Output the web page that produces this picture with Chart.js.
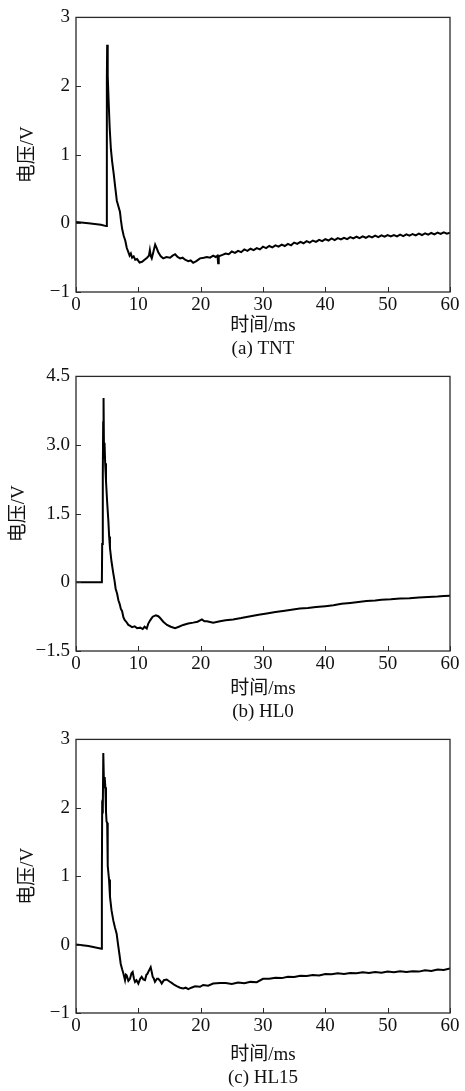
<!DOCTYPE html>
<html>
<head>
<meta charset="utf-8">
<title>电压-时间曲线</title>
<script src="https://cdn.jsdelivr.net/npm/chart.js@4/dist/chart.umd.min.js"></script>
<style>
    html, body { margin: 0; padding: 0; background: #fff; }
    #Wrap { position: relative; width: 465px; height: 1091px; }
    #Wrap canvas { position: absolute; left: 0; }
</style>
</head>
<body>
<div id="Wrap">
    <canvas id="ChartTnt" width="465" height="369"></canvas>
    <canvas id="ChartHl0" width="465" height="369"></canvas>
    <canvas id="ChartHl15" width="465" height="369"></canvas>
</div>
<script>
// time (ms), voltage (V)
var tntCurve = [
    [0, 0.02], [2, 0.0], [4, -0.02], [4.85, -0.04], [4.95, 2.1], [5.0, 2.6], [5.06, 2.05], [5.12, 2.15],
    [5.25, 1.75], [5.4, 1.4], [5.6, 1.08], [5.8, 0.9], [6.05, 0.72], [6.3, 0.52], [6.55, 0.33], [6.8, 0.25],
    [7.05, 0.17], [7.2, 0.05], [7.4, -0.08], [7.65, -0.18], [7.9, -0.25], [8.15, -0.36], [8.4, -0.42],
    [8.6, -0.47], [8.8, -0.44], [9.0, -0.5], [9.25, -0.48], [9.5, -0.53], [9.8, -0.52], [10.2, -0.57],
    [10.6, -0.56], [11.0, -0.53], [11.4, -0.5], [11.7, -0.47], [11.85, -0.39], [12.0, -0.48], [12.15, -0.51],
    [12.4, -0.42], [12.7, -0.31], [12.9, -0.35], [13.2, -0.42], [13.6, -0.48], [14.0, -0.51], [14.5, -0.49],
    [15.1, -0.5], [15.5, -0.47], [15.9, -0.45], [16.3, -0.49], [16.7, -0.51], [17.1, -0.5], [17.5, -0.53],
    [18.0, -0.55], [18.4, -0.54], [18.8, -0.575], [19.3, -0.55], [19.9, -0.51], [20.5, -0.5], [21.0, -0.49],
    [21.5, -0.5], [22.0, -0.47], [22.4, -0.49], [22.7, -0.47], [22.8, -0.58], [22.9, -0.48], [23.5, -0.46],
    [24.0, -0.44], [24.5, -0.45], [25.0, -0.41], [25.5, -0.43], [26.0, -0.4], [26.5, -0.42], [27.0, -0.38],
    [27.5, -0.4], [28.0, -0.37], [28.5, -0.39], [29.0, -0.36], [29.5, -0.38], [30.0, -0.34], [30.5, -0.36],
    [31.0, -0.33], [31.5, -0.35], [32.0, -0.32], [32.5, -0.34], [33.0, -0.31], [33.5, -0.33], [34.0, -0.3],
    [34.5, -0.32], [35.0, -0.28], [35.5, -0.3], [36.0, -0.27], [36.5, -0.29], [37.0, -0.26], [37.5, -0.28],
    [38.0, -0.25], [38.5, -0.27], [39.0, -0.24], [39.5, -0.26], [40.0, -0.23], [40.5, -0.25], [41.0, -0.22],
    [41.5, -0.245], [42.0, -0.215], [42.5, -0.235], [43.0, -0.21], [43.5, -0.23], [44.0, -0.2], [44.5, -0.22],
    [45.0, -0.195], [45.5, -0.215], [46.0, -0.19], [46.5, -0.21], [47.0, -0.185], [47.5, -0.205], [48.0, -0.18],
    [48.5, -0.2], [49.0, -0.175], [49.5, -0.195], [50.0, -0.17], [50.5, -0.19], [51.0, -0.17], [51.5, -0.19],
    [52.0, -0.165], [52.5, -0.185], [53.0, -0.16], [53.5, -0.18], [54.0, -0.155], [54.5, -0.175], [55.0, -0.15],
    [55.5, -0.17], [56.0, -0.145], [56.5, -0.165], [57.0, -0.14], [57.5, -0.16], [58.0, -0.135], [58.5, -0.155],
    [59.0, -0.13], [59.5, -0.15], [60.0, -0.135]
];

var hl0Curve = [
    [0, 0.0], [2, 0.0], [4.15, 0.0], [4.2, 0.84], [4.3, 2.36], [4.36, 3.5], [4.42, 4.03], [4.5, 2.72],
    [4.58, 3.05], [4.68, 2.6], [4.81, 2.22], [5.0, 1.75], [5.19, 1.35], [5.32, 1.0], [5.45, 0.75], [5.7, 0.45],
    [5.99, 0.19], [6.2, 0.02], [6.36, -0.14], [6.6, -0.25], [6.8, -0.39], [7.0, -0.47], [7.2, -0.58],
    [7.4, -0.63], [7.6, -0.76], [7.8, -0.82], [8.0, -0.85], [8.4, -0.93], [8.7, -0.95], [9.0, -0.98],
    [9.4, -0.96], [9.8, -1.0], [10.3, -0.99], [10.7, -1.02], [11.0, -0.97], [11.35, -1.01], [11.6, -0.9],
    [11.9, -0.83], [12.3, -0.75], [12.8, -0.72], [13.2, -0.74], [13.5, -0.78], [14.0, -0.86], [14.6, -0.93],
    [15.2, -0.97], [15.9, -1.0], [16.5, -0.97], [17.2, -0.93], [18.0, -0.9], [18.8, -0.88], [19.5, -0.86],
    [20.2, -0.81], [20.6, -0.85], [21.0, -0.85], [22.0, -0.88], [23.1, -0.85], [24.0, -0.83], [25.2, -0.81],
    [26.5, -0.78], [28.0, -0.74], [29.3, -0.71], [30.6, -0.68], [32.0, -0.65], [33.5, -0.62], [35.9, -0.57],
    [37.2, -0.56], [38.5, -0.54], [40.0, -0.52], [41.3, -0.5], [42.6, -0.47], [44.0, -0.45], [45.3, -0.43],
    [46.6, -0.41], [48.0, -0.395], [49.0, -0.38], [50.5, -0.37], [52.0, -0.355], [53.5, -0.345], [55.0, -0.33],
    [56.5, -0.32], [58.0, -0.31], [59.0, -0.3], [60.0, -0.29]
];

var hl15Curve = [
    [0, 0.0], [2, -0.02], [4.1, -0.06], [4.15, 1.0], [4.2, 2.03], [4.3, 2.0], [4.38, 2.8], [4.5, 2.3],
    [4.6, 2.45], [4.71, 2.3], [4.81, 1.95], [4.9, 1.8], [5.0, 1.78], [5.06, 1.5], [5.12, 1.15], [5.3, 0.95],
    [5.45, 0.7], [5.7, 0.5], [5.99, 0.35], [6.25, 0.25], [6.52, 0.16], [6.75, 0.0], [6.95, -0.13],
    [7.17, -0.28], [7.4, -0.36], [7.59, -0.42], [7.86, -0.52], [8.0, -0.44], [8.13, -0.45], [8.4, -0.53],
    [8.66, -0.5], [8.9, -0.42], [9.09, -0.4], [9.3, -0.5], [9.47, -0.545], [9.7, -0.52], [10.0, -0.57],
    [10.3, -0.5], [10.54, -0.47], [10.8, -0.51], [11.07, -0.52], [11.3, -0.44], [11.44, -0.43], [11.7, -0.38],
    [11.98, -0.33], [12.15, -0.4], [12.3, -0.47], [12.5, -0.5], [12.67, -0.545], [13.0, -0.5], [13.2, -0.5],
    [13.5, -0.53], [13.75, -0.57], [14.1, -0.52], [14.55, -0.51], [15.0, -0.54], [15.35, -0.56], [15.8, -0.59],
    [16.15, -0.607], [16.7, -0.63], [17.2, -0.64], [17.6, -0.63], [18.0, -0.65], [18.5, -0.63], [19.1, -0.61],
    [19.9, -0.617], [20.4, -0.59], [21.2, -0.6], [22.0, -0.57], [23.1, -0.56], [24.0, -0.56], [25.0, -0.575],
    [26.0, -0.555], [27.0, -0.565], [28.0, -0.545], [29.0, -0.55], [30.0, -0.5], [31.0, -0.5], [32.0, -0.485],
    [33.0, -0.49], [34.0, -0.47], [35.0, -0.475], [36.0, -0.455], [37.0, -0.46], [38.0, -0.445], [39.0, -0.45],
    [40.0, -0.43], [41.0, -0.435], [42.0, -0.42], [43.0, -0.43], [44.0, -0.415], [45.0, -0.42], [46.0, -0.405],
    [47.0, -0.415], [48.0, -0.4], [49.0, -0.41], [50.0, -0.395], [51.0, -0.405], [52.0, -0.39], [53.0, -0.4],
    [54.0, -0.39], [55.0, -0.395], [56.0, -0.375], [57.0, -0.385], [58.0, -0.365], [59.0, -0.37], [60.0, -0.35]
];

var captions = ['(a) TNT', '(b) HL0', '(c) HL15'];
var xTitle = '时间/ms';
var yTitle = '电压/V';
var xTicks = { min: 0, max: 60, step: 10 };
var yTicksTnt = { min: -1, max: 3, step: 1 };
var yTicksHl0 = { min: -1.5, max: 4.5, step: 1.5 };
var yTicksHl15 = { min: -1, max: 3, step: 1 };

Chart.defaults.font.family = "'Liberation Serif', 'Noto Sans CJK SC', serif";
Chart.defaults.color = '#111';

var INK = '#2a2a2a';
var TEXT_SIZE = 19;

// box around the plot area plus short ticks pointing inwards
var boxFrame = {
    id: 'boxFrame',
    afterDatasetsDraw: function (chart) {
        var ctx = chart.ctx, a = chart.chartArea;
        var xs = chart.scales.x, ys = chart.scales.y;
        ctx.save();
        ctx.strokeStyle = INK;
        ctx.lineWidth = 1.3;
        ctx.strokeRect(a.left, a.top, a.right - a.left, a.bottom - a.top);
        ctx.lineWidth = 1;
        ctx.beginPath();
        xs.ticks.forEach(function (t) {
            var p = Math.round(xs.getPixelForValue(t.value)) + 0.5;
            ctx.moveTo(p, a.bottom);
            ctx.lineTo(p, a.bottom - 5);
        });
        ys.ticks.forEach(function (t) {
            var p = Math.round(ys.getPixelForValue(t.value)) + 0.5;
            ctx.moveTo(a.left, p);
            ctx.lineTo(a.left + 5, p);
        });
        ctx.stroke();
        ctx.restore();
    }
};

function fmtMinus(s) { return String(s).replace('-', '\u2212'); }

function renderPanel(canvasId, top, curve, yRange, decimals, panel) {
    var el = document.getElementById(canvasId);
    el.style.top = top + 'px';
    var h = el.height;
    var titleLine = 23;

    new Chart(el, {
        type: 'line',
        data: {
            datasets: [{
                data: curve.map(function (p) { return { x: p[0], y: p[1] }; }),
                borderColor: '#000',
                borderWidth: 2,
                pointRadius: 0,
                tension: 0,
                fill: false
            }]
        },
        options: {
            responsive: false,
            animation: false,
            devicePixelRatio: 1,
            layout: { padding: { top: 16, right: 15, left: 0, bottom: 0 } },
            plugins: { legend: { display: false }, tooltip: { enabled: false } },
            scales: {
                x: {
                    type: 'linear',
                    min: xTicks.min, max: xTicks.max,
                    grid: { display: false, drawTicks: false },
                    border: { display: false },
                    ticks: {
                        stepSize: xTicks.step, padding: 2, maxRotation: 0,
                        font: { size: TEXT_SIZE }, color: '#111'
                    },
                    title: {
                        display: true,
                        text: [xTitle, panel.caption],
                        font: { size: TEXT_SIZE, lineHeight: titleLine + 'px' },
                        color: '#111',
                        padding: { top: 0, bottom: h - panel.captionY - titleLine / 2 }
                    },
                    afterFit: function (s) { s.height = h - panel.plotBottom; }
                },
                y: {
                    min: yRange.min, max: yRange.max,
                    grid: { display: false, drawTicks: false },
                    border: { display: false },
                    ticks: {
                        stepSize: yRange.step, padding: 6,
                        font: { size: TEXT_SIZE }, color: '#111',
                        callback: function (v) {
                            return fmtMinus(v === 0 ? '0' : v.toFixed(decimals));
                        }
                    },
                    title: {
                        display: true,
                        text: yTitle,
                        font: { size: TEXT_SIZE, lineHeight: '22px' },
                        color: '#111',
                        padding: { top: panel.yTitleX - 11, bottom: 0 }
                    },
                    afterFit: function (s) { s.width = 76; }
                }
            }
        },
        plugins: [boxFrame]
    });
}

renderPanel('ChartTnt', 0, tntCurve, yTicksTnt, 0,
    { caption: captions[0], plotBottom: 292, captionY: 349, yTitleX: 28 });
renderPanel('ChartHl0', 359, hl0Curve, yTicksHl0, 1,
    { caption: captions[1], plotBottom: 292, captionY: 353, yTitleX: 19 });
renderPanel('ChartHl15', 722, hl15Curve, yTicksHl15, 0,
    { caption: captions[2], plotBottom: 291, captionY: 356, yTitleX: 28 });
</script>
</body>
</html>
